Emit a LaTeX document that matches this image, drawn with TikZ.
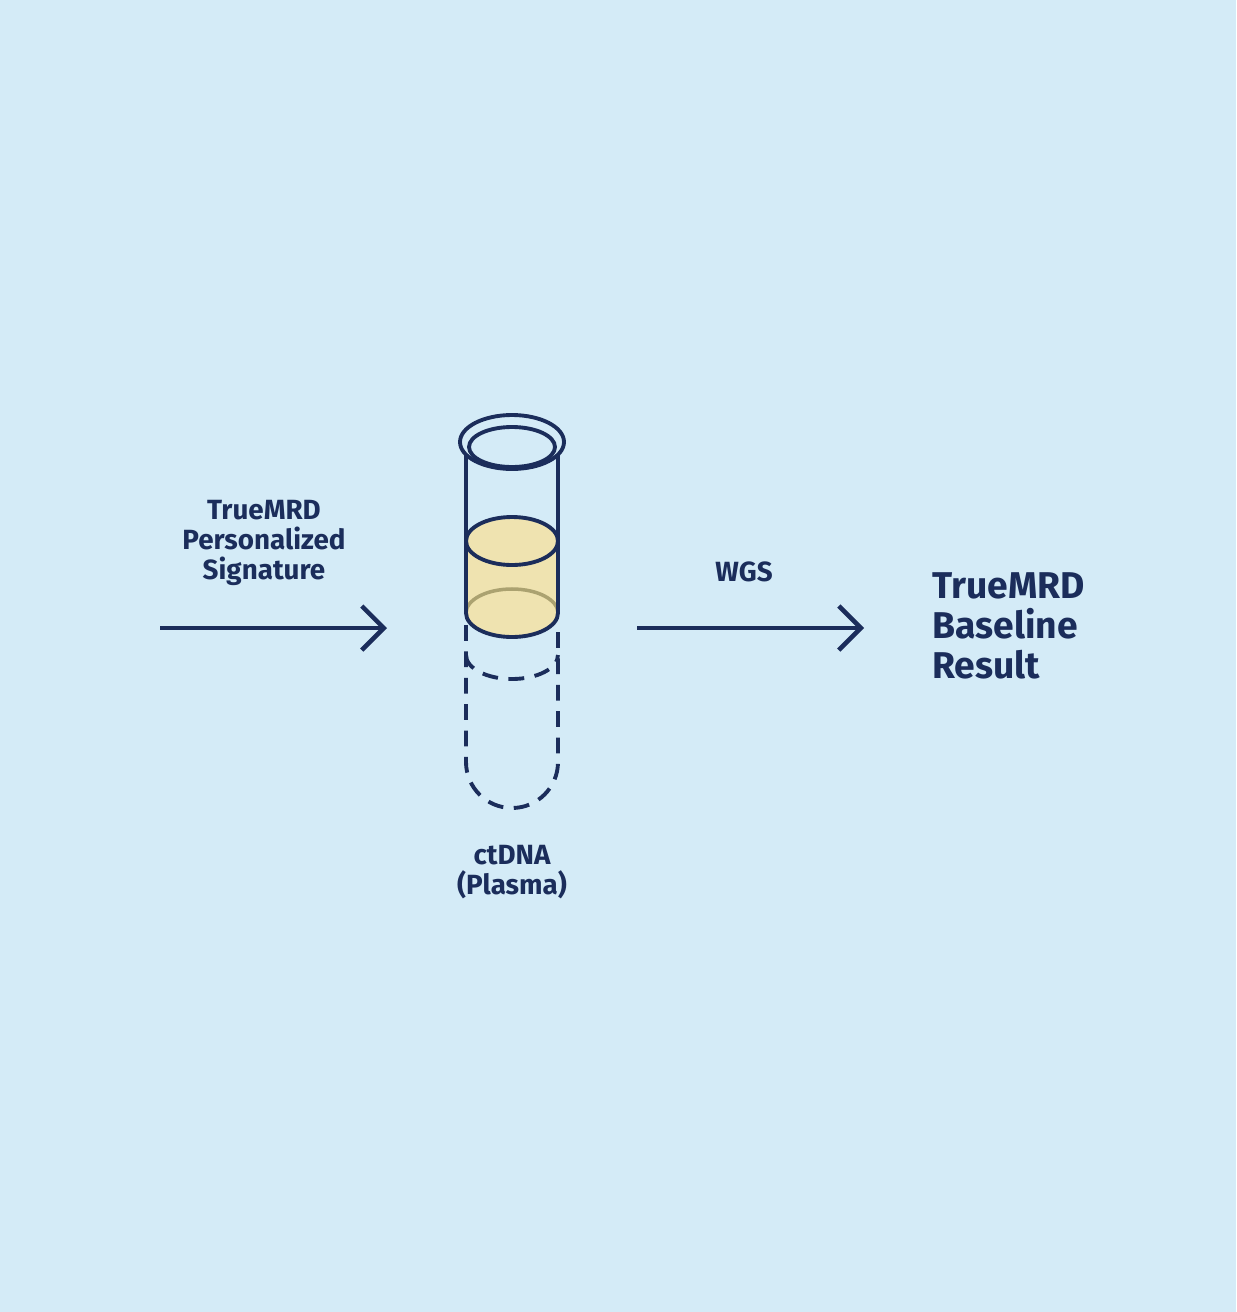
\documentclass[tikz,border=0pt]{standalone}
\usepackage{fontspec}
\setmainfont{Fira Sans}
\usetikzlibrary{positioning,arrows.meta}
\definecolor{bgblue}{HTML}{D4EBF7}
\definecolor{navy}{HTML}{1B2D5B}
\definecolor{plasma}{HTML}{EFE3B0}
\definecolor{plasmaline}{HTML}{ABA270}
\tikzset{
    flow arrow/.style = {draw=navy, line width=1.3pt,
                         -{Straight Barb[length=2.2mm,width=4.4mm]}},
    small label/.style = {text=navy, font=\fontsize{7.9}{8.6}\selectfont\bfseries,
                          align=center},
    big label/.style = {text=navy, font=\fontsize{10.6}{11.4}\selectfont\bfseries,
                        align=left, anchor=west},
    tube line/.style = {draw=navy, line width=1.1pt},
    tube dashed/.style = {tube line, dash pattern=on 4.5pt off 3pt},
}
\begin{document}
\begin{tikzpicture}[x=0.01cm, y=-0.01cm]
    \fill[bgblue] (0,0) rectangle (1236,1312);
    \useasboundingbox (0,0) rectangle (1236,1312);
    % tube
    \fill[plasma] (466,541) -- (466,613) arc[start angle=180, end angle=0,
                  x radius=46, y radius=24] -- (558,541) -- cycle;
    \draw[plasmaline, line width=1pt] (466,613) arc[start angle=180, end angle=360,
                  x radius=46, y radius=24];
    \draw[tube line] (466,455) -- (466,613) arc[start angle=180, end angle=0,
                  x radius=46, y radius=24] -- (558,455);
    \draw[tube line, fill=plasma] (512,541) ellipse[x radius=46, y radius=24];
    \draw[tube line, fill=bgblue] (512,442) ellipse[x radius=52, y radius=27];
    \draw[tube line] (512,447) ellipse[x radius=43, y radius=20];
    \draw[tube dashed] (466,625) -- (466,762) arc[start angle=180, end angle=0,
                  radius=46] -- (558,625);
    \draw[tube dashed] (466,655) arc[start angle=180, end angle=0,
                  x radius=46, y radius=24];
    % arrows and labels
    \coordinate (a1) at (160,628);
    \coordinate (b1) at (387,628);
    \coordinate (a2) at (637,628);
    \coordinate (b2) at (864,628);
    \draw[flow arrow] (a1) -- (b1);
    \draw[flow arrow] (a2) -- (b2);
    \node (sig) [small label] at (264,543) {TrueMRD\\Personalized\\Signature};
    \node (wgs) [small label] at (744,572) {WGS};
    \node (ct) [small label] at (512,872) {ctDNA\\(Plasma)};
    \node (res) [big label] at (920,626) {TrueMRD\\Baseline\\Result};
\end{tikzpicture}
\end{document}
